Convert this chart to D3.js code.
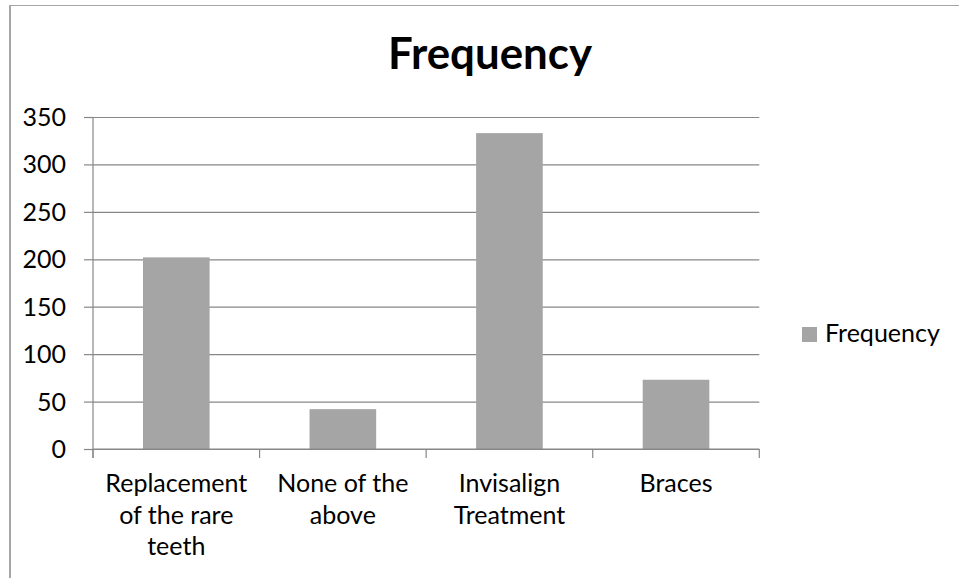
<!DOCTYPE html>
<html>
<head>
<meta charset="utf-8">
<script src="https://cdn.jsdelivr.net/npm/d3@7"></script>
<style>
  html, body { margin: 0; padding: 0; background: #fff; }
  svg { display: block; }
  text { font-family: Lato, "Open Sans", "Noto Sans", sans-serif; fill: #000; }
</style>
</head>
<body>
<svg id="chart" width="959" height="578"></svg>
<script>
const categories = ["Replacement of the rare teeth", "None of the above", "Invisalign Treatment", "Braces"];
const frequency = [202, 42, 333, 73];
const yTicks = [0, 50, 100, 150, 200, 250, 300, 350];
const seriesName = "Frequency";
const chartTitle = "Frequency";

const W = 959, H = 578;
const plot = { left: 93, right: 759.3, top: 117, bottom: 449 };
const svg = d3.select("#chart");

svg.append("rect").attr("width", W).attr("height", H).attr("fill", "#fff");

// outer chart border
svg.append("line").attr("x1", 10).attr("x2", 10).attr("y1", 5).attr("y2", H)
  .attr("stroke", "#a6a6a6").attr("stroke-width", 2);
svg.append("line").attr("x1", 9).attr("x2", W).attr("y1", 5.5).attr("y2", 5.5)
  .attr("stroke", "#a6a6a6").attr("stroke-width", 1);

// fit a font size so that a sample text reaches a target width (Calibri metrics)
function fitSize(txt, weight, target) {
  const t = svg.append("text").attr("font-size", 100).attr("font-weight", weight).text(txt);
  const w = t.node().getComputedTextLength();
  t.remove();
  return 100 * target / w;
}
const labelSize = fitSize("Replacement", "normal", 142);
const titleSize = fitSize("Frequency", "bold", 204);

const y = d3.scaleLinear().domain([0, 350]).range([plot.bottom, plot.top]);
const x = d3.scaleBand().domain(categories).range([plot.left, plot.right])
  .paddingInner(0.6).paddingOuter(0.3);

// gridlines + y axis via d3 axis
const yAxis = d3.axisLeft(y).tickValues(yTicks).tickSize(-(plot.right - plot.left)).tickFormat(d3.format("d"));
const gy = svg.append("g").attr("transform", `translate(${plot.left},0)`).call(yAxis);
gy.select(".domain").remove();
gy.selectAll(".tick line").attr("stroke", "#878787").attr("stroke-width", 1.2);
// extend tick outside
gy.selectAll(".tick").append("line").attr("x1", -9).attr("x2", 0)
  .attr("stroke", "#878787").attr("stroke-width", 1.2);
gy.selectAll(".tick text").attr("x", -27).attr("dy", "0.34em")
  .attr("font-size", labelSize).attr("font-family", "Lato, 'Open Sans', sans-serif").attr("fill", "#000");

// vertical axis line
svg.append("line").attr("x1", plot.left).attr("x2", plot.left).attr("y1", plot.top).attr("y2", plot.bottom + 9)
  .attr("stroke", "#878787").attr("stroke-width", 1.2);

// bars
svg.append("g").selectAll("rect").data(frequency).join("rect")
  .attr("x", (d, i) => x(categories[i]))
  .attr("width", x.bandwidth())
  .attr("y", d => y(d))
  .attr("height", d => y(0) - y(d))
  .attr("fill", "#a5a5a5");

// x axis line and ticks at category boundaries
svg.append("line").attr("x1", plot.left).attr("x2", plot.right).attr("y1", plot.bottom).attr("y2", plot.bottom)
  .attr("stroke", "#878787").attr("stroke-width", 1.2);
const step = x.step();
const bounds = d3.range(categories.length + 1).map(i => plot.left + i * step);
svg.append("g").selectAll("line").data(bounds).join("line")
  .attr("x1", d => d).attr("x2", d => d).attr("y1", plot.bottom).attr("y2", plot.bottom + 9)
  .attr("stroke", "#878787").attr("stroke-width", 1.2);

// category labels with word wrap
function wrapWords(txt, maxW) {
  const words = txt.split(" ");
  const lines = [];
  let cur = "";
  const probe = svg.append("text").attr("font-size", labelSize);
  words.forEach(w => {
    const test = cur ? cur + " " + w : w;
    probe.text(test);
    if (probe.node().getComputedTextLength() > maxW && cur) { lines.push(cur); cur = w; }
    else cur = test;
  });
  if (cur) lines.push(cur);
  probe.remove();
  return lines;
}
categories.forEach(c => {
  const lines = wrapWords(c, step - 8);
  const t = svg.append("text").attr("text-anchor", "middle").attr("font-size", labelSize)
    .attr("x", x(c) + x.bandwidth() / 2).attr("y", 492);
  lines.forEach((l, i) => t.append("tspan").attr("x", x(c) + x.bandwidth() / 2).attr("y", 492 + i * 31.5).text(l));
});

// title
svg.append("text").attr("x", 490).attr("y", 69).attr("text-anchor", "middle")
  .attr("font-size", titleSize).attr("font-weight", "bold").text(chartTitle);

// legend
svg.append("rect").attr("x", 802).attr("y", 327).attr("width", 15).attr("height", 15).attr("fill", "#a5a5a5");
svg.append("text").attr("x", 825).attr("y", 342).attr("font-size", labelSize).text(seriesName);
</script>
</body>
</html>
